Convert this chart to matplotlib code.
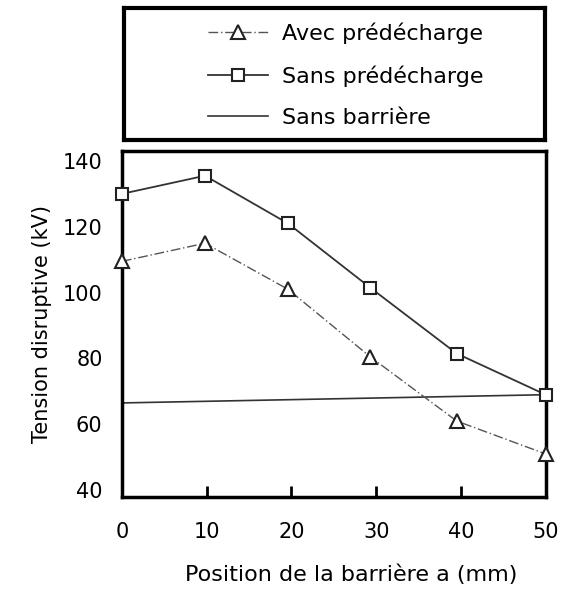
import matplotlib
matplotlib.use("Agg")
import matplotlib.pyplot as plt

# Data
x_pos = [0, 9.8, 19.6, 29.3, 39.5, 50]
avec_predecharge = [109.5, 115, 101, 80.5, 61, 51]
sans_predecharge = [130, 135.5, 121, 101.5, 81.5, 69]
x_barriere = [0, 50]
sans_barriere = [66.5, 69]
x_ticks = [0, 10, 20, 30, 40, 50]
y_ticks = [40, 60, 80, 100, 120, 140]
labels = ["Avec prédécharge", "Sans prédécharge", "Sans barrière"]

plt.rcParams['font.family'] = ['DejaVu Sans']

fig = plt.figure(figsize=(5.62, 5.90), dpi=100)
ax = fig.add_axes([0.217, 0.158, 0.754, 0.586])

l1, = ax.plot(x_pos, avec_predecharge, color='#555555', lw=1.0, ls=(0, (7, 2, 1, 2)),
              marker='^', markersize=10, markerfacecolor='white', markeredgecolor='#222222',
              markeredgewidth=1.5, clip_on=False, zorder=3)
l2, = ax.plot(x_pos, sans_predecharge, color='#333333', lw=1.3, ls='-',
              marker='s', markersize=9, markerfacecolor='white', markeredgecolor='#222222',
              markeredgewidth=1.5, clip_on=False, zorder=3)
l3, = ax.plot(x_barriere, sans_barriere, color='#333333', lw=1.2, ls='-', zorder=2)

ax.set_xlim(0, 50)
ax.set_ylim(38, 143)
ax.set_xticks(x_ticks)
ax.set_yticks(y_ticks)
ax.tick_params(axis='x', direction='in', length=8, width=2, pad=18, labelsize=15)
ax.tick_params(axis='y', length=0, pad=14, labelsize=15)
for s in ax.spines.values():
    s.set_linewidth(2.5)
ax.set_xlabel("Position de la barrière a (mm)", fontsize=16, labelpad=16)
ax.xaxis.set_label_coords(0.54, -0.195)
ax.set_ylabel("Tension disruptive (kV)", fontsize=15, labelpad=8)

# Legend box
axl = fig.add_axes([0.221, 0.763, 0.749, 0.224])
axl.set_xticks([])
axl.set_yticks([])
for s in axl.spines.values():
    s.set_linewidth(3)
axl.legend([l1, l2, l3], labels, loc='center left', frameon=False, fontsize=16,
           handlelength=2.7, handletextpad=0.6, labelspacing=0.95,
           borderpad=0, borderaxespad=0, bbox_to_anchor=(0.2, 0.49))

fig.savefig("out.png", dpi=100)
